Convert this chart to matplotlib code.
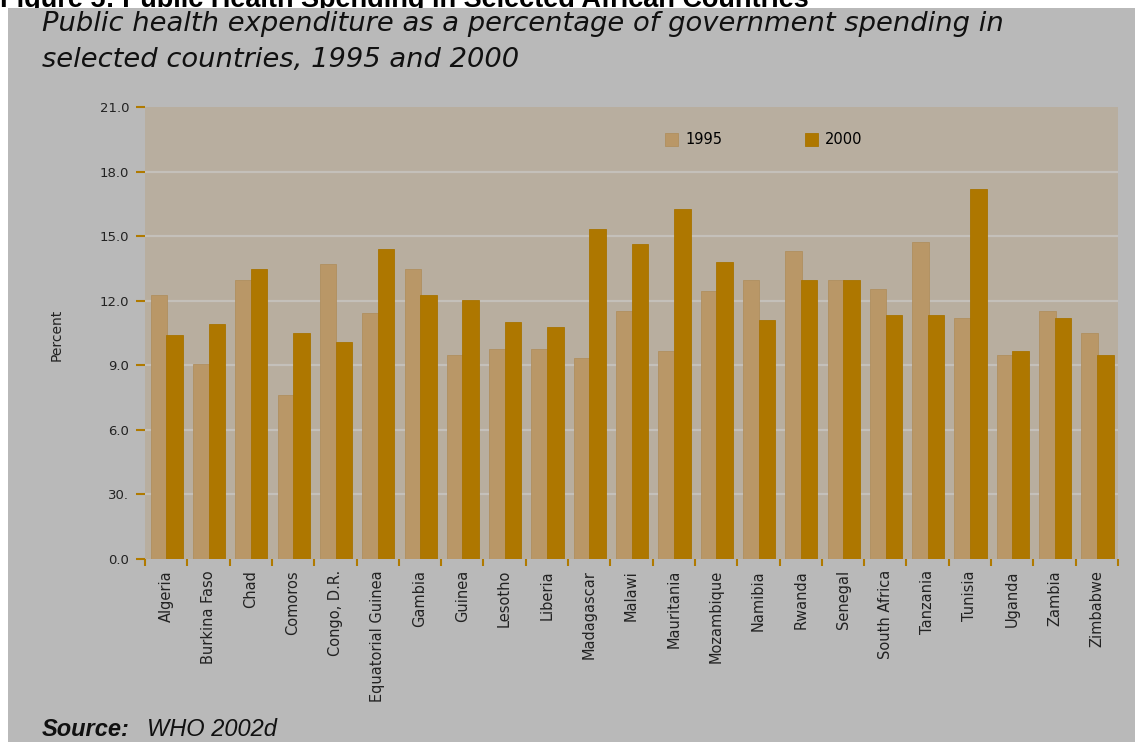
import matplotlib
matplotlib.use("Agg")
import matplotlib.pyplot as plt
from matplotlib.patches import Rectangle
import numpy as np

countries = ["Algeria", "Burkina Faso", "Chad", "Comoros", "Congo, D.R.",
             "Equatorial Guinea", "Gambia", "Guinea", "Lesotho", "Liberia",
             "Madagascar", "Malawi", "Mauritania", "Mozambique", "Namibia",
             "Rwanda", "Senegal", "South Africa", "Tanzania", "Tunisia",
             "Uganda", "Zambia", "Zimbabwe"]
val_1995 = [12.25, 9.05, 12.96, 7.6, 13.69, 11.43, 13.47, 9.46, 9.77, 9.77,
            9.36, 11.52, 9.66, 12.43, 12.96, 14.31, 12.96, 12.54, 14.71, 11.21,
            9.46, 11.52, 10.48]
val_2000 = [10.39, 10.9, 13.47, 10.48, 10.08, 14.4, 12.25, 12.03, 11.0, 10.79,
            15.35, 14.62, 16.28, 13.78, 11.1, 12.96, 12.96, 11.32, 11.32, 17.21,
            9.66, 11.21, 9.46]
ytick_vals = [0, 3, 6, 9, 12, 15, 18, 21]
ytick_labels = ["0.0", "30.", "6.0", "9.0", "12.0", "15.0", "18.0", "21.0"]

c95 = "#b99767"
c00 = "#ae7700"
tick_col = "#b07a00"

plt.rcParams['font.family'] = ['DejaVu Sans']

fig = plt.figure(figsize=(11.35, 7.42), dpi=100, facecolor="white")
# grey panel (leaves a white strip on top and left, hides lower part of the header)
fig.patches.append(Rectangle((8 / 1135, 0), 1, 1 - 8 / 742, transform=fig.transFigure,
                             facecolor="#b9b9b9", edgecolor="none", zorder=-10))

ax = fig.add_axes([145 / 1135, 1 - 559 / 742, 973 / 1135, 452 / 742])
ax.set_zorder(1)
ax.set_facecolor("#b8ae9f")

x = np.arange(len(countries))
ax.bar(x - 0.17, val_1995, width=0.39, color=c95, edgecolor="#b08f5f", linewidth=0.6,
       label="1995", zorder=3)
ax.bar(x + 0.20, val_2000, width=0.39, color=c00, edgecolor="#a87300", linewidth=0.6,
       label="2000", zorder=4)

for v in ytick_vals[1:-1]:
    ax.axhline(v, color="#c4c0ba", linewidth=1.6, zorder=1)

ax.set_xlim(-0.5, len(countries) - 0.5)
ax.set_ylim(0, 21)
for s in ax.spines.values():
    s.set_visible(False)

ax.set_yticks(ytick_vals)
ax.set_yticklabels(ytick_labels)
ax.tick_params(axis="y", length=6.5, width=1.5, color=tick_col, pad=5,
               labelsize=9.5, labelcolor="#222222")

ax.set_xticks(x)
ax.set_xticklabels(countries, rotation=90, va="top", ha="center")
ax.set_xticks(np.arange(len(countries) + 1) - 0.5, minor=True)
ax.tick_params(axis="x", which="major", length=0, pad=8, labelsize=10.5,
               labelcolor="#222222")
ax.tick_params(axis="x", which="minor", length=5, width=1.5, color=tick_col)

fig.text(57 / 1135, 1 - 335 / 742, "Percent", rotation=90, ha="center", va="center",
         fontsize=10, color="#222222")

ax.legend(loc="center", bbox_to_anchor=(0.636, 0.927), ncol=2, frameon=False,
          fontsize=10.5, handlelength=0.9, handleheight=0.9, handletextpad=0.45,
          columnspacing=5.7)

# titles
fig.text(0, 1 - 7 / 742, "Figure 5: Public Health Spending in Selected African Countries",
         fontsize=19.5, fontweight="bold", ha="left", va="baseline", color="black",
         family="Liberation Sans", zorder=-20)
fig.text(42 / 1135, 1 - 31 / 742,
         "Public health expenditure as a percentage of government spending in",
         fontsize=19.7, style="italic", ha="left", va="baseline", color="#111111")
fig.text(42 / 1135, 1 - 67 / 742, "selected countries, 1995 and 2000",
         fontsize=19.7, style="italic", ha="left", va="baseline", color="#111111")
fig.text(42 / 1135, 1 - 736 / 742, "Source:", fontsize=17, style="italic",
         fontweight="bold", ha="left", va="baseline", color="#111111",
         family="Liberation Sans")
fig.text(147 / 1135, 1 - 736 / 742, "WHO 2002d", fontsize=17, style="italic",
         ha="left", va="baseline", color="#111111", family="Liberation Sans")

fig.savefig("out.png", dpi=100, facecolor="white")
